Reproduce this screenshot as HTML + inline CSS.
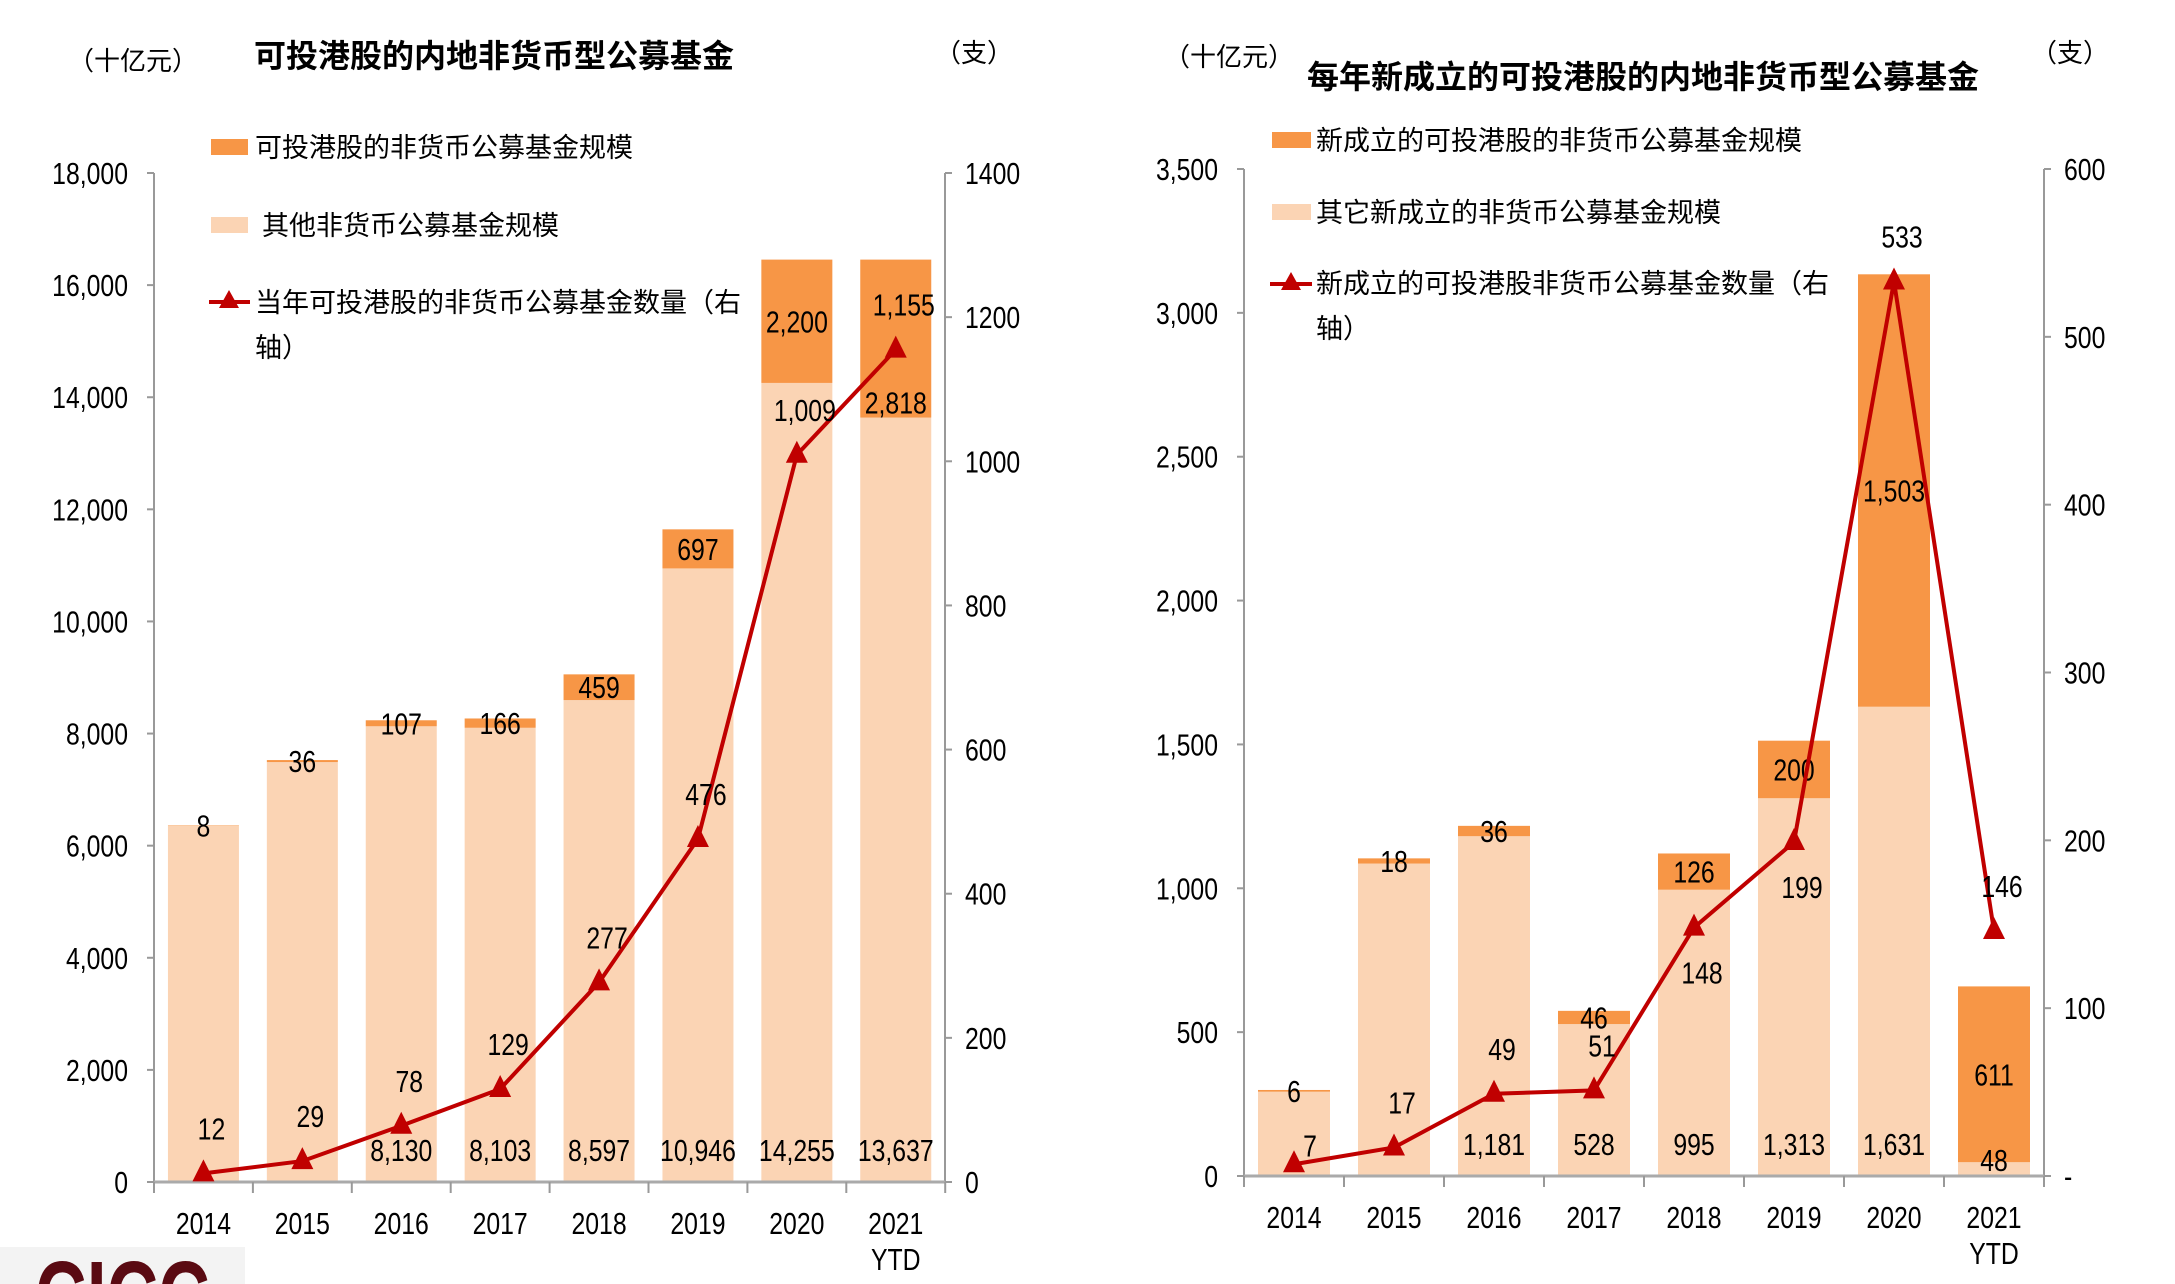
<!DOCTYPE html>
<html><head><meta charset="utf-8"><style>
html,body{margin:0;padding:0;background:#fff;width:2175px;height:1284px;overflow:hidden;}
svg{display:block;overflow:hidden;}
text{font-family:"Liberation Sans Narrow","Liberation Sans","Noto Sans CJK SC",sans-serif;fill:#000;}
.cjk{font-family:"Noto Sans CJK SC","WenQuanYi Zen Hei",sans-serif;}
</style></head><body>
<svg id="c" width="2175" height="1284" viewBox="0 0 2175 1284" xmlns="http://www.w3.org/2000/svg">
<svg x="0" y="1247" width="245" height="37" viewBox="0 1247 245 37" overflow="hidden">
<rect x="0" y="1247" width="245" height="37" fill="#f3f3f3"/>
<text x="35" y="1331" font-size="100" font-weight="bold" textLength="175" lengthAdjust="spacingAndGlyphs" fill="#5a0a12" style="fill:#5a0a12;font-family:'Liberation Sans',sans-serif">CICC</text>
</svg>
</svg>
<script>
const years=["2014","2015","2016","2017","2018","2019","2020","2021"];
const leftOther=[6355,7491,8130,8103,8597,10946,14255,13637];
const leftHK=[8,36,107,166,459,697,2200,2818];
const leftCount=[12,29,78,129,277,476,1009,1155];
const leftTicks=[0,2000,4000,6000,8000,10000,12000,14000,16000,18000];
const leftRTicks=[0,200,400,600,800,1000,1200,1400];
const rightOther=[293,1086,1181,528,995,1313,1631,48];
const rightHK=[6,18,36,46,126,200,1503,611];
const rightCount=[7,17,49,51,148,199,533,146];
const rightTicks=[0,500,1000,1500,2000,2500,3000,3500];
const rightRTicks=[0,100,200,300,400,500,600];

const svg=document.getElementById('c');
const NS='http://www.w3.org/2000/svg';
function mk(tag,attrs,txt){const e=document.createElementNS(NS,tag);for(const k in attrs)e.setAttribute(k,attrs[k]);if(txt!==undefined)e.textContent=txt;svg.appendChild(e);return e;}
function num(x,y,txt,anchor){
  return mk('text',{x:0,y:0,'font-size':31,'text-anchor':anchor||'middle',transform:`translate(${x},${y}) scale(0.8,1)`},txt);
}
function fmt(v){return v.toLocaleString('en-US');}

function chart(o){
  const y=v=>o.y0-(v/o.yMax)*(o.y0-o.yTop);
  const yr=v=>o.y0-(v/o.rMax)*(o.y0-o.yTop);
  const cx=i=>o.x0+(i+0.5)*o.step;
  let e=mk('line',{x1:o.x0,y1:o.yTop,x2:o.x0,y2:o.y0,stroke:'#999','stroke-width':2});
  
  e=mk('line',{x1:o.xR,y1:o.yTop,x2:o.xR,y2:o.y0,stroke:'#999','stroke-width':2});
  
  o.ticks.forEach(t=>{
    e=mk('line',{x1:o.x0-7,y1:y(t),x2:o.x0,y2:y(t),stroke:'#999','stroke-width':2});
    
    e=num(o.x0-26,y(t)+11,fmt(t),'end');
    
  });
  o.rticks.forEach(t=>{
    e=mk('line',{x1:o.xR,y1:yr(t),x2:o.xR+7,y2:yr(t),stroke:'#999','stroke-width':2});
    
    e=num(o.xR+20,yr(t)+11,(t===0&&o.dash)?'-':String(t),'start');
    
  });
  years.forEach((yv,i)=>{
    const x=cx(i)-o.bw/2;
    e=mk('rect',{x:x,y:y(o.other[i]),width:o.bw,height:o.y0-y(o.other[i]),fill:'#FBD4B4'});
    
    const top=o.other[i]+o.hk[i];
    e=mk('rect',{x:x,y:y(top),width:o.bw,height:y(o.other[i])-y(top),fill:'#F79646'});
    
  });
  e=mk('line',{x1:o.x0,y1:o.y0,x2:o.xR,y2:o.y0,stroke:'#aaa','stroke-width':3});
  
  for(let i=0;i<=years.length;i++){
    e=mk('line',{x1:o.x0+i*o.step,y1:o.y0,x2:o.x0+i*o.step,y2:o.y0+11,stroke:'#999','stroke-width':2});
    
  }
  years.forEach((yv,i)=>{
    e=num(cx(i),o.y0+52,yv);
    
  });
  e=num(cx(7),o.y0+88,'YTD');
  
  years.forEach((yv,i)=>{
    const top=o.other[i]+o.hk[i];
    let ly=(y(top)+y(o.other[i]))/2+11;
    if(o.p==='left'&&i===7) ly=y(o.other[i])-4;
    e=num(cx(i),ly,fmt(o.hk[i]));
    
    if(i>=2){
      e=num(cx(i),(o.p==='right'&&i===7)?o.y0-5:o.y0-21,fmt(o.other[i]));
      
    }
  });
  const pts=o.count.map((v,i)=>cx(i)+','+yr(v)).join(' ');
  e=mk('polyline',{points:pts,fill:'none',stroke:'#C00000','stroke-width':4});
  
  o.count.forEach((v,i)=>{
    const px=cx(i),py=yr(v);
    e=mk('polygon',{points:`${px},${py-14} ${px-11},${py+8} ${px+11},${py+8}`,fill:'#C00000'});
    
    const below=o.below.includes(i);
    let ly=below?py+56:py-34, lx=px+8;
    if(o.p==='right'&&i===0){ly=py-8;lx=px+16;}
    e=num(lx,ly,fmt(v));
    
  });
}
chart({p:'left',x0:154,xR:945,step:98.9,bw:71,y0:1182,yTop:173,yMax:18000,rMax:1400,ticks:leftTicks,rticks:leftRTicks,other:leftOther,hk:leftHK,count:leftCount,below:[],dash:false});
chart({p:'right',x0:1244,xR:2044,step:100,bw:72,y0:1176,yTop:169,yMax:3500,rMax:600,ticks:rightTicks,rticks:rightRTicks,other:rightOther,hk:rightHK,count:rightCount,below:[4,5],dash:true});

function T(x,y,s,txt,name,extra){const e=mk('text',Object.assign({x:x,y:y,'font-size':s,class:'cjk'},extra||{}),txt);return e;}
function sq(x,y,w,h,c,name){const e=mk('rect',{x:x,y:y,width:w,height:h,fill:c});}
T(68,70,26,'（十亿元）','left-y-unit');
T(254,67,32,'可投港股的内地非货币型公募基金','left-title',{'font-weight':'bold'});
T(935,62,26,'（支）','left-right-unit');
sq(211,139,37,16,'#F79646','left-legend-swatch-hk');
T(255,157,27,'可投港股的非货币公募基金规模','left-legend-hk');
sq(211,217,37,16,'#FBD4B4','left-legend-swatch-other');
T(262,235,27,'其他非货币公募基金规模','left-legend-other');
let l=mk('line',{x1:209,y1:302,x2:250,y2:302,stroke:'#C00000','stroke-width':4});
l=mk('polygon',{points:'229,290 219,308 239,308',fill:'#C00000'});
T(255,312,27,'当年可投港股的非货币公募基金数量（右','left-legend-count');
T(255,357,27,'轴）','left-legend-count-line2');
T(1164,66,26,'（十亿元）','right-y-unit');
T(1307,88,32,'每年新成立的可投港股的内地非货币型公募基金','right-title',{'font-weight':'bold'});
T(2031,62,26,'（支）','right-right-unit');
sq(1272,132,39,16,'#F79646','right-legend-swatch-hk');
T(1316,150,27,'新成立的可投港股的非货币公募基金规模','right-legend-hk');
sq(1272,204,39,16,'#FBD4B4','right-legend-swatch-other');
T(1316,222,27,'其它新成立的非货币公募基金规模','right-legend-other');
l=mk('line',{x1:1270,y1:284,x2:1312,y2:284,stroke:'#C00000','stroke-width':4});
l=mk('polygon',{points:'1291,272 1281,290 1301,290',fill:'#C00000'});
T(1316,293,27,'新成立的可投港股非货币公募基金数量（右','right-legend-count');
T(1316,338,27,'轴）','right-legend-count-line2');
</script>
</body></html>
